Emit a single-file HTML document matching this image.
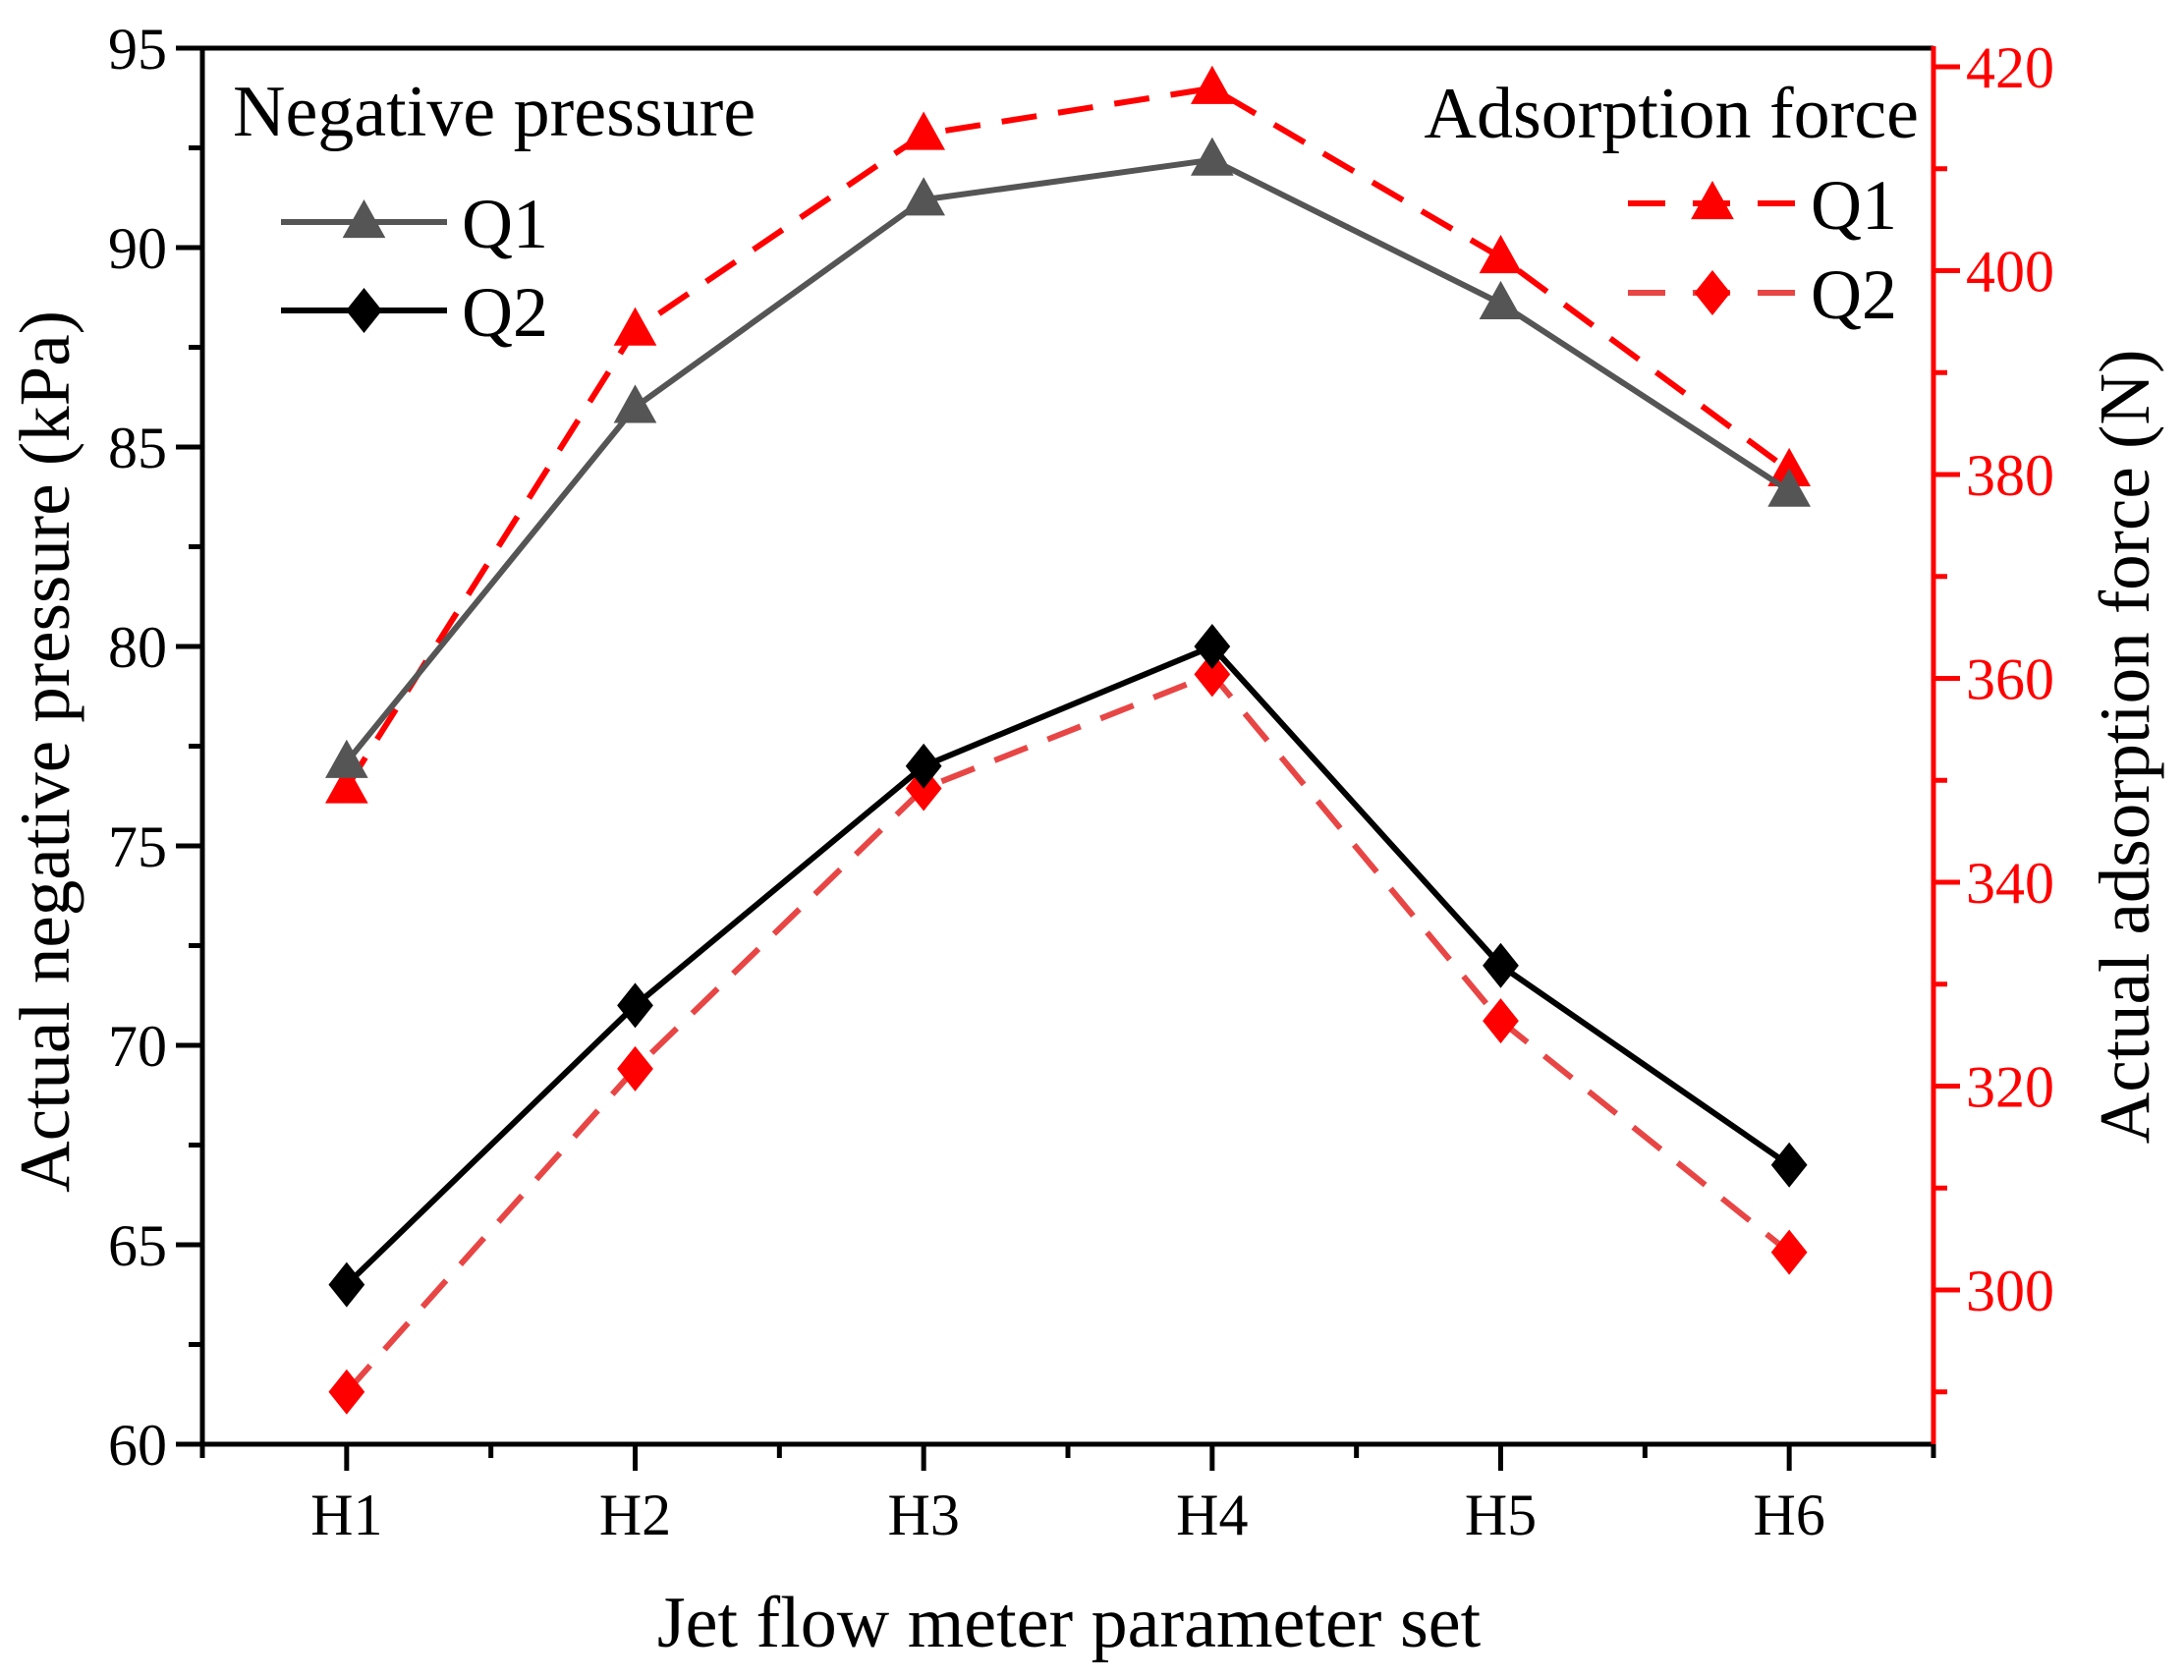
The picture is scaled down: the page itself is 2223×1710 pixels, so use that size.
<!DOCTYPE html>
<html><head><meta charset="utf-8"><style>
html,body{margin:0;padding:0;background:#fff;}
svg{display:block;font-family:"Liberation Serif",serif;}
</style></head><body>
<svg id="chart" width="2223" height="1710" viewBox="0 0 2223 1710" xmlns="http://www.w3.org/2000/svg">
<g id="axes"></g><g id="series"></g><g id="legend"></g>
</svg>
<script>
const categories = ["H1","H2","H3","H4","H5","H6"];
const pressureQ1 = [77.1, 86.0, 91.2, 92.2, 88.6, 83.9];
const pressureQ2 = [64, 71, 77, 80, 72, 67];
const forceQ1 = [349.3, 394.2, 413.4, 417.9, 401.3, 380.4];
const forceQ2 = [290.0, 321.7, 349.2, 360.4, 326.4, 303.7];
const leftTicks = [60, 65, 70, 75, 80, 85, 90, 95];
const rightTicks = [300, 320, 340, 360, 380, 400, 420];

const NS = "http://www.w3.org/2000/svg";
const L = 206, R = 1968, T = 49, B = 1470;
function xs(i){ return L + (i + 0.5) * (R - L) / 6; }
function yl(v){ return B - (v - 60) * (B - T) / 35; }
function yr(v){ return 1313 - (v - 300) * 10.375; }
function mk(tag, attrs, parent){ const e = document.createElementNS(NS, tag); for (const k in attrs) e.setAttribute(k, attrs[k]); parent.appendChild(e); return e; }
const axes = document.getElementById('axes'), series = document.getElementById('series'), legend = document.getElementById('legend');

let e;
e = mk('line', {x1:L, y1:T, x2:R, y2:T, stroke:'#000', 'stroke-width':5}, axes);
 
e = mk('line', {x1:L, y1:B, x2:R+1, y2:B, stroke:'#000', 'stroke-width':5}, axes);
 
e = mk('line', {x1:L, y1:T-2, x2:L, y2:B+2, stroke:'#000', 'stroke-width':5}, axes);
 
e = mk('line', {x1:R, y1:T-2, x2:R, y2:B, stroke:'#f00', 'stroke-width':5}, axes);
 

for (let v = 60; v <= 95; v += 2.5) {
  const major = v % 5 === 0;
  e = mk('line', {x1:L, x2:L - (major ? 27 : 14), y1:yl(v), y2:yl(v), stroke:'#000', 'stroke-width':5}, axes);
   
}
leftTicks.forEach(v => {
  e = mk('text', {x:L - 36, y:yl(v) + 21, 'text-anchor':'end', 'font-size':60, fill:'#000'}, axes);
  e.textContent = v;
   
});
for (let v = 290; v <= 420; v += 10) {
  const major = v % 20 === 0;
  e = mk('line', {x1:R, x2:R + (major ? 27 : 14), y1:yr(v), y2:yr(v), stroke:'#f00', 'stroke-width':5}, axes);
   
}
rightTicks.forEach(v => {
  e = mk('text', {x:R + 33, y:yr(v) + 21, 'text-anchor':'start', 'font-size':60, fill:'#f00'}, axes);
  e.textContent = v;
   
});
for (let k = 0; k <= 12; k++) {
  const x = L + k * (R - L) / 12;
  const major = k % 2 === 1;
  e = mk('line', {x1:x, x2:x, y1:B, y2:B + (major ? 27 : 14), stroke:'#000', 'stroke-width':5}, axes);
   
}
categories.forEach((c, i) => {
  e = mk('text', {x:xs(i), y:1562, 'text-anchor':'middle', 'font-size':60, fill:'#000'}, axes);
  e.textContent = c;
   
});
e = mk('text', {x:1088, y:1676, 'text-anchor':'middle', 'font-size':74, fill:'#000'}, axes);
e.textContent = 'Jet flow meter parameter set';
 
e = mk('text', {x:0, y:0, 'text-anchor':'middle', 'font-size':73, fill:'#000', transform:'translate(70,765) rotate(-90)'}, axes);
e.textContent = 'Actual negative pressure (kPa)';
 
e = mk('text', {x:0, y:0, 'text-anchor':'middle', 'font-size':73, fill:'#000', transform:'translate(2187,760) rotate(-90)'}, axes);
e.textContent = 'Actual adsorption force (N)';
 

function tri(x, y, s, fill, parent){ return mk('polygon', {points:`${x},${y-s} ${x-s*0.95},${y+s*0.7} ${x+s*0.95},${y+s*0.7}`, fill:fill}, parent); }
function dia(x, y, s, fill, parent){ return mk('polygon', {points:`${x},${y-s} ${x+s*0.8},${y} ${x},${y+s} ${x-s*0.8},${y}`, fill:fill}, parent); }

function drawSeries(vals, yf, color, dash, marker, mcolor, name){
  const pts = vals.map((v, i) => `${xs(i)},${yf(v)}`).join(' ');
  const attrs = {points:pts, fill:'none', stroke:color, 'stroke-width':6, 'stroke-linejoin':'round'};
  if (dash) attrs['stroke-dasharray'] = dash;
  e = mk('polyline', attrs, series);
   
  vals.forEach((v, i) => {
    e = marker === 'tri' ? tri(xs(i), yf(v), 23, mcolor, series) : dia(xs(i), yf(v), 23, mcolor, series);
     
  });
}
drawSeries(forceQ1, yr, '#f00', '36,22', 'tri', '#f00', 'force-q1');
drawSeries(forceQ2, yr, '#e84545', '36,22', 'dia', '#f00', 'force-q2');
drawSeries(pressureQ1, yl, '#555', null, 'tri', '#555', 'pressure-q1');
drawSeries(pressureQ2, yl, '#000', null, 'dia', '#000', 'pressure-q2');

e = mk('text', {x:237, y:138, 'font-size':74, fill:'#000'}, legend);
e.textContent = 'Negative pressure';
 
e = mk('text', {x:1953, y:140, 'text-anchor':'end', 'font-size':74, fill:'#000'}, legend);
e.textContent = 'Adsorption force';
 

function legEntry(x1, x2, y, color, dash, marker, mcolor, label, tx, name){
  const g = mk('g', {}, legend);
   
  const a = {x1:x1, x2:x2, y1:y, y2:y, stroke:color, 'stroke-width':6};
  if (dash) a['stroke-dasharray'] = dash;
  mk('line', a, g);
  const mx = (x1 + x2) / 2;
  if (marker === 'tri') tri(mx, y, 23, mcolor, g); else dia(mx, y, 23, mcolor, g);
  const t = mk('text', {x:tx, y:y + 26, 'font-size':72, fill:'#000'}, g);
  t.textContent = label;
}
legEntry(286, 455, 226, '#555', null, 'tri', '#555', 'Q1', 470, 'legend-pressure-q1');
legEntry(286, 455, 316, '#000', null, 'dia', '#000', 'Q2', 470, 'legend-pressure-q2');
legEntry(1657, 1829, 207, '#f00', '38,28', 'tri', '#f00', 'Q1', 1843, 'legend-force-q1');
legEntry(1657, 1829, 298, '#e84545', '38,28', 'dia', '#f00', 'Q2', 1843, 'legend-force-q2');
</script>
</body></html>
